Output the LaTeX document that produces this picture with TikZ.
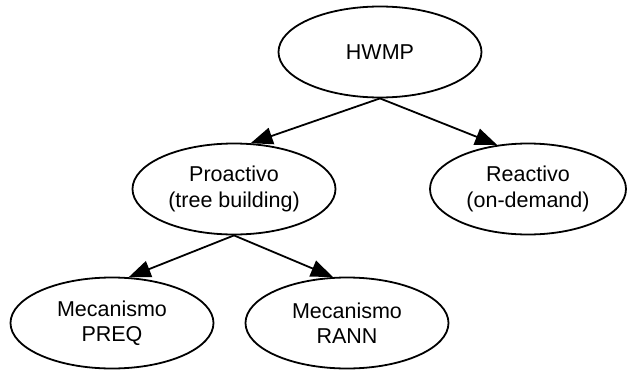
\documentclass[tikz,border=0pt]{standalone}
\usepackage{fontspec}
\setmainfont{Liberation Sans}
\usetikzlibrary{shapes.geometric,arrows.meta}

\begin{document}
\begin{tikzpicture}[x=1pt, y=-1pt,
    nodo/.style={draw, ellipse, line width=1.8pt, minimum width=203pt, minimum height=91pt,
      inner sep=0pt, align=center, font=\fontsize{21.5}{25.5}\selectfont},
    flecha/.style={line width=1.8pt, -{Triangle[length=22pt,width=17pt]}}]
    \useasboundingbox (0,0) rectangle (630,370);
    % raiz
    \node[nodo] (hwmp) at (380,52) {HWMP};
    % modos
    \node[nodo] (proactivo) at (234,189) {Proactivo\\(tree building)};
    \node[nodo, minimum width=196pt] (reactivo) at (528,189) {Reactivo\\(on-demand)};
    % mecanismos
    \node[nodo] (preq) at (112,323) {Mecanismo\\PREQ};
    \node[nodo] (rann) at (347,323) {Mecanismo\\RANN};
    % flechas
    \draw[flecha] (hwmp.south) -- (proactivo.70);
    \draw[flecha] (hwmp.south) -- (reactivo.125);
    \draw[flecha] (proactivo.south) -- (preq.70);
    \draw[flecha] (proactivo.south) -- (rann.107);
  \end{tikzpicture}
\end{document}
